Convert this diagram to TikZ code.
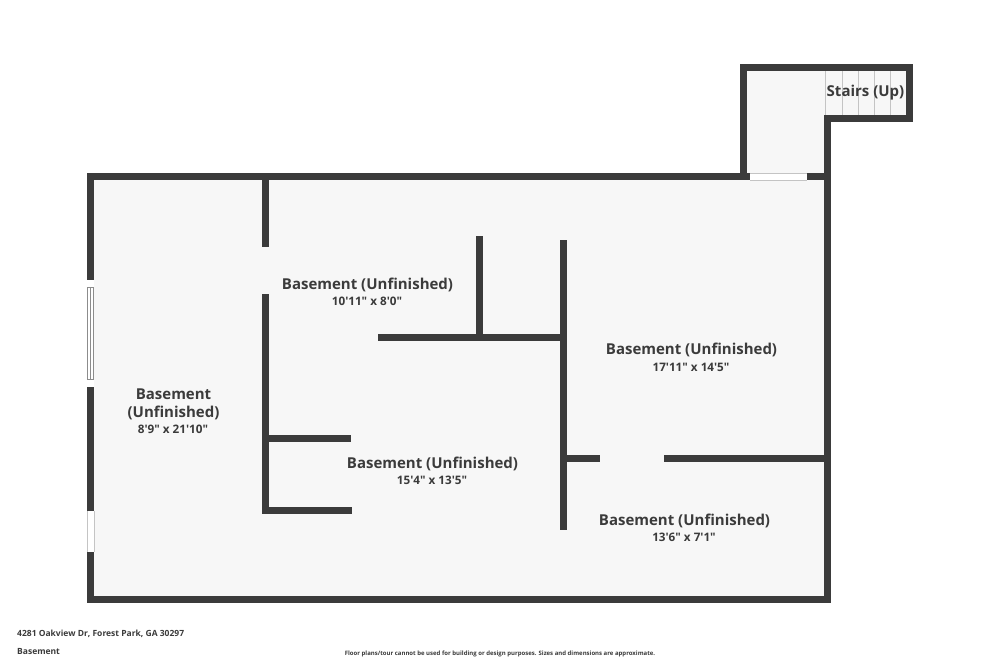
\documentclass[tikz,border=0pt]{standalone}
\usepackage{fontspec}
\setmainfont{Open Sans}
\newcommand{\ft}{\textquotesingle}
\newcommand{\inch}{\textquotedbl}
\tikzset{
  floorfill/.style={fill=floor,draw=none},
  wall/.style={line width=7pt,draw=wallgrey,line cap=butt},
  tread/.style={line width=0.8pt,draw=treadgrey},
  pane/.style={line width=1pt,draw=panegrey,fill=white},
  roomname/.style={font=\fontsize{15}{18}\selectfont\bfseries,text=wallgrey,anchor=center,inner sep=0pt},
  roomsize/.style={font=\fontsize{11.7}{15}\selectfont\bfseries,text=wallgrey,anchor=center,inner sep=0pt},
  footer/.style={font=\fontsize{8.5}{10}\selectfont\bfseries,text=wallgrey,inner sep=0pt}
}
\definecolor{wallgrey}{HTML}{3B3B3B}
\definecolor{floor}{HTML}{F7F7F7}
\definecolor{treadgrey}{HTML}{C4C4C4}
\definecolor{panegrey}{HTML}{8C8C8C}
\begin{document}
\begin{tikzpicture}[x=1pt,y=-1pt]
  \useasboundingbox (0,0) rectangle (1000,667);
  \fill[white] (0,0) rectangle (1000,667);

  \path[floorfill] (90.5,177) rectangle (827.5,599.5);
  \path[floorfill] (743.5,67.5) rectangle (827.5,177);
  \path[floorfill] (827.5,67.5) rectangle (909,118.5);

  \foreach \xtread in {842,858,874,890}
    \draw[tread] (\xtread,70) -- (\xtread,115);
  \draw[tread] (825.5,70) -- (825.5,115);

  \draw[wall] (743.5,177) -- (743.5,67.5) -- (909,67.5) -- (909,118.5) -- (827.5,118.5) -- (827.5,177);
  \draw[wall] (90.5,173.5) -- (90.5,603);
  \draw[wall] (87,599.5) -- (831,599.5);
  \draw[wall] (827.5,173.5) -- (827.5,603);
  \draw[wall] (87,176.5) -- (750,176.5);
  \draw[wall] (807,176.5) -- (831,176.5);

  \fill[white] (750,173) rectangle (807,180);
  \draw[tread] (750,173.5) -- (807,173.5);
  \draw[tread] (750,180) -- (807,180);

  \draw[wall] (265.5,180) -- (265.5,247);
  \draw[wall] (265.5,294) -- (265.5,513.5);
  \draw[wall] (265.5,438) -- (351,438);
  \draw[wall] (262,510) -- (352,510);
  \draw[wall] (378,337) -- (563,337);
  \draw[wall] (479,236) -- (479,337);
  \draw[wall] (563,240) -- (563,530);
  \draw[wall] (563,458) -- (600,458);
  \draw[wall] (664,458) -- (827,458);

  \fill[white] (87,280) rectangle (94,387);
  \draw[pane] (87.5,287) rectangle (93.5,379);
  \draw[pane] (90.5,287) -- (90.5,379);
  \fill[white] (87,511) rectangle (94,552);
  \draw[tread] (87.5,511) -- (87.5,552);
  \draw[tread] (94,511) -- (94,552);

  \node[roomname] (stairs) at (865.5,92.5) {Stairs (Up)};

  \node[roomname] (topname) at (367.5,285) {Basement (Unfinished)};
  \node[roomsize] (topsize) at (367,301) {10\ft11\inch{} x 8\ft0\inch};

  \node[roomname] (rightname) at (691.5,350) {Basement (Unfinished)};
  \node[roomsize] (rightsize) at (691,367) {17\ft11\inch{} x 14\ft5\inch};

  \node[roomname] (midname) at (432.5,464) {Basement (Unfinished)};
  \node[roomsize] (midsize) at (432,480) {15\ft4\inch{} x 13\ft5\inch};

  \node[roomname] (lowname) at (684.5,521) {Basement (Unfinished)};
  \node[roomsize] (lowsize) at (684,537) {13\ft6\inch{} x 7\ft1\inch};

  \node[roomname] (leftname) at (173.5,394) {Basement};
  \node[roomname] (leftnametwo) at (173.5,413) {(Unfinished)};
  \node[roomsize] (leftsize) at (173,429) {8\ft9\inch{} x 21\ft10\inch};

  \node[footer,anchor=west] (address) at (17,634) {4281 Oakview Dr, Forest Park, GA 30297};
  \node[footer,anchor=west] (level) at (17,651) {Basement};
  \node[footer,font=\fontsize{6}{7}\selectfont\bfseries] (disclaimer) at (500,654) {Floor plans/tour cannot be used for building or design purposes. Sizes and dimensions are approximate.};
\end{tikzpicture}
\end{document}
